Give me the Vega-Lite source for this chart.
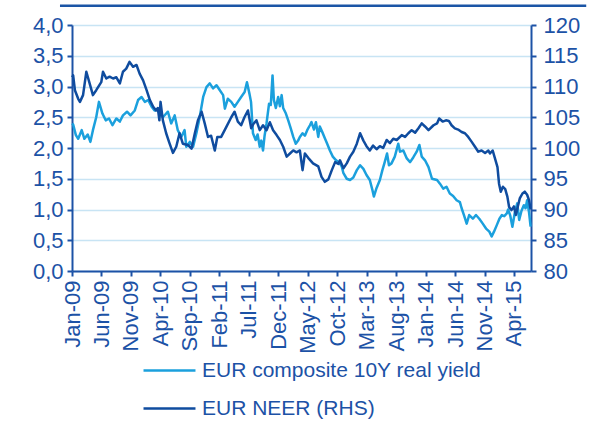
{
  "$schema": "https://vega.github.io/schema/vega-lite/v6.json",
  "width": 459,
  "height": 246,
  "autosize": {"type": "none"},
  "padding": {"left": 72, "top": 25, "right": 69, "bottom": 150},
  "background": "white",
  "config": {
    "view": {"stroke": null},
    "font": "Liberation Sans",
    "axis": {
      "labelFont": "Liberation Sans",
      "labelFontSize": 22,
      "labelColor": "#1c52a6",
      "domainColor": "#1c52a6",
      "domainWidth": 2,
      "tickColor": "#1c52a6",
      "tickWidth": 2,
      "tickSize": 5,
      "labelOverlap": false,
      "labelBound": false,
      "labelFlush": false,
      "title": null
    },
    "legend": {
      "orient": "none",
      "legendX": 70,
      "legendY": 318,
      "direction": "vertical",
      "symbolType": "stroke",
      "symbolSize": 2700,
      "symbolStrokeWidth": 2.5,
      "labelFont": "Liberation Sans",
      "labelFontSize": 21,
      "labelColor": "#1c52a6",
      "labelOffset": 5,
      "labelLimit": 400,
      "rowPadding": -16,
      "padding": 0,
      "title": null
    }
  },
  "datasets": {
    "yield": [
      {"d": "2009-01-02", "v": 2.40}, {"d": "2009-01-07", "v": 2.38}, {"d": "2009-01-21", "v": 2.21},
      {"d": "2009-02-02", "v": 2.15}, {"d": "2009-02-20", "v": 2.29}, {"d": "2009-03-06", "v": 2.15},
      {"d": "2009-03-23", "v": 2.22}, {"d": "2009-04-06", "v": 2.10}, {"d": "2009-04-19", "v": 2.29},
      {"d": "2009-05-06", "v": 2.50}, {"d": "2009-05-20", "v": 2.75}, {"d": "2009-06-07", "v": 2.56},
      {"d": "2009-06-24", "v": 2.45}, {"d": "2009-07-11", "v": 2.48}, {"d": "2009-07-29", "v": 2.37},
      {"d": "2009-08-18", "v": 2.48}, {"d": "2009-09-05", "v": 2.43}, {"d": "2009-09-21", "v": 2.53},
      {"d": "2009-10-12", "v": 2.59}, {"d": "2009-10-30", "v": 2.53}, {"d": "2009-11-21", "v": 2.61},
      {"d": "2009-12-08", "v": 2.78}, {"d": "2009-12-26", "v": 2.83}, {"d": "2010-01-12", "v": 2.75},
      {"d": "2010-01-29", "v": 2.78}, {"d": "2010-02-16", "v": 2.67}, {"d": "2010-03-03", "v": 2.61},
      {"d": "2010-03-20", "v": 2.63}, {"d": "2010-03-28", "v": 2.56}, {"d": "2010-04-15", "v": 2.50},
      {"d": "2010-05-11", "v": 2.59}, {"d": "2010-05-28", "v": 2.40}, {"d": "2010-06-15", "v": 2.53},
      {"d": "2010-07-01", "v": 2.29}, {"d": "2010-07-19", "v": 2.18}, {"d": "2010-08-05", "v": 2.29},
      {"d": "2010-08-14", "v": 2.02}, {"d": "2010-09-01", "v": 2.10}, {"d": "2010-09-18", "v": 2.02},
      {"d": "2010-10-05", "v": 2.24}, {"d": "2010-10-22", "v": 2.50}, {"d": "2010-11-09", "v": 2.83},
      {"d": "2010-11-26", "v": 2.99}, {"d": "2010-12-13", "v": 3.05}, {"d": "2010-12-30", "v": 2.97},
      {"d": "2011-01-17", "v": 3.02}, {"d": "2011-02-03", "v": 2.94}, {"d": "2011-02-20", "v": 2.86},
      {"d": "2011-03-01", "v": 2.64}, {"d": "2011-03-16", "v": 2.80}, {"d": "2011-04-03", "v": 2.75},
      {"d": "2011-04-20", "v": 2.67}, {"d": "2011-05-07", "v": 2.75}, {"d": "2011-05-24", "v": 2.83},
      {"d": "2011-06-11", "v": 2.91}, {"d": "2011-06-23", "v": 3.07}, {"d": "2011-07-06", "v": 2.88},
      {"d": "2011-07-14", "v": 2.75}, {"d": "2011-07-24", "v": 2.24}, {"d": "2011-08-07", "v": 2.13},
      {"d": "2011-08-17", "v": 2.22}, {"d": "2011-08-28", "v": 2.02}, {"d": "2011-09-05", "v": 2.12},
      {"d": "2011-09-14", "v": 1.96}, {"d": "2011-09-22", "v": 2.20}, {"d": "2011-10-02", "v": 2.40},
      {"d": "2011-10-15", "v": 2.72}, {"d": "2011-10-24", "v": 2.70}, {"d": "2011-11-02", "v": 3.18},
      {"d": "2011-11-09", "v": 2.78}, {"d": "2011-11-19", "v": 2.65}, {"d": "2011-12-01", "v": 2.83},
      {"d": "2011-12-10", "v": 2.68}, {"d": "2011-12-19", "v": 2.86}, {"d": "2011-12-27", "v": 2.65},
      {"d": "2012-01-10", "v": 2.56}, {"d": "2012-01-22", "v": 2.45}, {"d": "2012-02-04", "v": 2.32},
      {"d": "2012-02-17", "v": 2.18}, {"d": "2012-03-01", "v": 2.07}, {"d": "2012-03-13", "v": 2.12},
      {"d": "2012-03-22", "v": 2.18}, {"d": "2012-04-05", "v": 2.24}, {"d": "2012-04-17", "v": 2.20},
      {"d": "2012-04-29", "v": 2.29}, {"d": "2012-05-13", "v": 2.37}, {"d": "2012-05-21", "v": 2.42},
      {"d": "2012-06-03", "v": 2.30}, {"d": "2012-06-13", "v": 2.42}, {"d": "2012-06-25", "v": 2.18},
      {"d": "2012-07-03", "v": 2.35}, {"d": "2012-07-17", "v": 2.25}, {"d": "2012-07-29", "v": 2.16},
      {"d": "2012-08-10", "v": 2.07}, {"d": "2012-08-24", "v": 1.96}, {"d": "2012-09-08", "v": 1.86},
      {"d": "2012-09-25", "v": 1.80}, {"d": "2012-10-12", "v": 1.76}, {"d": "2012-10-24", "v": 1.70},
      {"d": "2012-11-02", "v": 1.59}, {"d": "2012-11-19", "v": 1.50}, {"d": "2012-12-06", "v": 1.48},
      {"d": "2012-12-23", "v": 1.52}, {"d": "2013-01-10", "v": 1.64}, {"d": "2013-01-27", "v": 1.72},
      {"d": "2013-02-13", "v": 1.66}, {"d": "2013-03-01", "v": 1.56}, {"d": "2013-03-18", "v": 1.48},
      {"d": "2013-04-01", "v": 1.31}, {"d": "2013-04-08", "v": 1.21}, {"d": "2013-04-22", "v": 1.35},
      {"d": "2013-05-09", "v": 1.48}, {"d": "2013-05-22", "v": 1.64}, {"d": "2013-06-03", "v": 1.77},
      {"d": "2013-06-15", "v": 1.91}, {"d": "2013-06-25", "v": 1.72}, {"d": "2013-07-08", "v": 1.75},
      {"d": "2013-07-25", "v": 1.86}, {"d": "2013-08-12", "v": 2.07}, {"d": "2013-08-21", "v": 1.94},
      {"d": "2013-09-07", "v": 1.96}, {"d": "2013-09-25", "v": 1.83}, {"d": "2013-10-12", "v": 1.77},
      {"d": "2013-10-29", "v": 1.85}, {"d": "2013-11-15", "v": 1.94}, {"d": "2013-11-29", "v": 2.05},
      {"d": "2013-12-11", "v": 1.86}, {"d": "2013-12-28", "v": 1.80}, {"d": "2014-01-15", "v": 1.69},
      {"d": "2014-02-02", "v": 1.50}, {"d": "2014-02-28", "v": 1.48}, {"d": "2014-03-15", "v": 1.42},
      {"d": "2014-04-01", "v": 1.34}, {"d": "2014-04-18", "v": 1.37}, {"d": "2014-05-05", "v": 1.26},
      {"d": "2014-05-22", "v": 1.22}, {"d": "2014-06-09", "v": 1.15}, {"d": "2014-06-26", "v": 1.12},
      {"d": "2014-07-05", "v": 1.02}, {"d": "2014-07-17", "v": 0.91}, {"d": "2014-07-31", "v": 0.77},
      {"d": "2014-08-13", "v": 0.91}, {"d": "2014-09-01", "v": 0.85}, {"d": "2014-09-17", "v": 0.91},
      {"d": "2014-10-04", "v": 0.85}, {"d": "2014-10-22", "v": 0.77}, {"d": "2014-11-08", "v": 0.69},
      {"d": "2014-11-25", "v": 0.64}, {"d": "2014-12-07", "v": 0.56}, {"d": "2014-12-19", "v": 0.64},
      {"d": "2015-01-03", "v": 0.75}, {"d": "2015-01-16", "v": 0.85}, {"d": "2015-01-29", "v": 0.91},
      {"d": "2015-02-10", "v": 0.89}, {"d": "2015-02-24", "v": 0.94}, {"d": "2015-03-02", "v": 1.00},
      {"d": "2015-03-13", "v": 0.90}, {"d": "2015-03-24", "v": 0.72}, {"d": "2015-04-06", "v": 0.96},
      {"d": "2015-04-18", "v": 1.10}, {"d": "2015-04-28", "v": 0.83}, {"d": "2015-05-10", "v": 0.98},
      {"d": "2015-05-22", "v": 1.07}, {"d": "2015-05-31", "v": 1.02}, {"d": "2015-06-08", "v": 1.15},
      {"d": "2015-06-18", "v": 0.95}, {"d": "2015-06-26", "v": 0.72}
    ],
    "neer": [
      {"d": "2009-01-02", "v": 111.5}, {"d": "2009-01-07", "v": 111.8}, {"d": "2009-01-16", "v": 109.4},
      {"d": "2009-02-02", "v": 108.0}, {"d": "2009-02-11", "v": 107.5}, {"d": "2009-02-27", "v": 108.6},
      {"d": "2009-03-16", "v": 112.4}, {"d": "2009-04-02", "v": 110.5}, {"d": "2009-04-19", "v": 108.6},
      {"d": "2009-05-06", "v": 109.4}, {"d": "2009-06-01", "v": 110.7}, {"d": "2009-06-10", "v": 112.4},
      {"d": "2009-06-27", "v": 111.3}, {"d": "2009-07-14", "v": 111.6}, {"d": "2009-08-01", "v": 111.3},
      {"d": "2009-08-18", "v": 111.5}, {"d": "2009-09-05", "v": 110.5}, {"d": "2009-09-21", "v": 112.4},
      {"d": "2009-10-08", "v": 112.9}, {"d": "2009-10-25", "v": 114.0}, {"d": "2009-11-12", "v": 113.2},
      {"d": "2009-11-30", "v": 113.5}, {"d": "2009-12-16", "v": 112.1}, {"d": "2010-01-03", "v": 111.0},
      {"d": "2010-01-21", "v": 109.4}, {"d": "2010-02-07", "v": 107.8}, {"d": "2010-02-24", "v": 106.7},
      {"d": "2010-03-11", "v": 106.1}, {"d": "2010-03-20", "v": 106.5}, {"d": "2010-03-28", "v": 104.5},
      {"d": "2010-04-03", "v": 107.5}, {"d": "2010-04-15", "v": 104.5}, {"d": "2010-05-02", "v": 102.4},
      {"d": "2010-05-19", "v": 100.8}, {"d": "2010-06-06", "v": 99.2}, {"d": "2010-06-23", "v": 100.2},
      {"d": "2010-07-10", "v": 102.4}, {"d": "2010-07-27", "v": 100.7}, {"d": "2010-08-22", "v": 100.5},
      {"d": "2010-09-10", "v": 99.9}, {"d": "2010-09-27", "v": 102.4}, {"d": "2010-10-13", "v": 104.5},
      {"d": "2010-11-01", "v": 105.9}, {"d": "2010-11-17", "v": 104.0}, {"d": "2010-12-04", "v": 101.8},
      {"d": "2010-12-20", "v": 102.0}, {"d": "2011-01-08", "v": 99.6}, {"d": "2011-01-21", "v": 101.8},
      {"d": "2011-02-10", "v": 101.8}, {"d": "2011-03-08", "v": 103.4}, {"d": "2011-04-03", "v": 105.0},
      {"d": "2011-04-20", "v": 105.9}, {"d": "2011-05-07", "v": 104.3}, {"d": "2011-05-24", "v": 103.7},
      {"d": "2011-06-10", "v": 105.0}, {"d": "2011-06-28", "v": 106.1}, {"d": "2011-07-15", "v": 103.2},
      {"d": "2011-07-26", "v": 103.9}, {"d": "2011-08-11", "v": 104.5}, {"d": "2011-08-28", "v": 102.9},
      {"d": "2011-09-14", "v": 103.7}, {"d": "2011-10-02", "v": 102.9}, {"d": "2011-10-19", "v": 104.2},
      {"d": "2011-11-05", "v": 102.9}, {"d": "2011-11-23", "v": 102.1}, {"d": "2011-12-10", "v": 101.3},
      {"d": "2011-12-27", "v": 100.2}, {"d": "2012-01-14", "v": 98.6}, {"d": "2012-01-31", "v": 99.1},
      {"d": "2012-02-17", "v": 99.6}, {"d": "2012-03-05", "v": 99.3}, {"d": "2012-03-22", "v": 99.6},
      {"d": "2012-04-05", "v": 96.4}, {"d": "2012-04-17", "v": 99.1}, {"d": "2012-05-04", "v": 98.4},
      {"d": "2012-05-29", "v": 97.5}, {"d": "2012-06-25", "v": 97.0}, {"d": "2012-07-12", "v": 95.3},
      {"d": "2012-07-29", "v": 94.5}, {"d": "2012-08-16", "v": 94.9}, {"d": "2012-09-03", "v": 96.4},
      {"d": "2012-09-20", "v": 97.7}, {"d": "2012-10-07", "v": 97.4}, {"d": "2012-10-15", "v": 98.0},
      {"d": "2012-11-02", "v": 96.7}, {"d": "2012-11-19", "v": 97.5}, {"d": "2012-12-06", "v": 98.6},
      {"d": "2012-12-23", "v": 99.4}, {"d": "2013-01-10", "v": 100.7}, {"d": "2013-01-27", "v": 102.4},
      {"d": "2013-02-13", "v": 101.2}, {"d": "2013-03-01", "v": 100.3}, {"d": "2013-03-18", "v": 99.6},
      {"d": "2013-04-04", "v": 100.4}, {"d": "2013-04-22", "v": 99.8}, {"d": "2013-05-09", "v": 100.3},
      {"d": "2013-05-26", "v": 100.0}, {"d": "2013-06-13", "v": 101.3}, {"d": "2013-06-30", "v": 100.8},
      {"d": "2013-07-17", "v": 101.5}, {"d": "2013-08-04", "v": 101.3}, {"d": "2013-08-30", "v": 102.1},
      {"d": "2013-09-16", "v": 101.8}, {"d": "2013-10-03", "v": 102.4}, {"d": "2013-10-20", "v": 102.9},
      {"d": "2013-11-07", "v": 102.5}, {"d": "2013-11-24", "v": 103.2}, {"d": "2013-12-11", "v": 104.0},
      {"d": "2013-12-28", "v": 103.5}, {"d": "2014-01-15", "v": 102.9}, {"d": "2014-02-10", "v": 103.7},
      {"d": "2014-02-28", "v": 104.0}, {"d": "2014-03-11", "v": 104.8}, {"d": "2014-03-29", "v": 104.3},
      {"d": "2014-04-15", "v": 104.5}, {"d": "2014-04-30", "v": 104.4}, {"d": "2014-05-14", "v": 103.7},
      {"d": "2014-05-31", "v": 103.2}, {"d": "2014-06-17", "v": 103.0}, {"d": "2014-07-05", "v": 102.6},
      {"d": "2014-07-22", "v": 102.4}, {"d": "2014-08-08", "v": 101.8}, {"d": "2014-08-26", "v": 101.0},
      {"d": "2014-09-12", "v": 100.2}, {"d": "2014-09-29", "v": 99.4}, {"d": "2014-10-16", "v": 99.6},
      {"d": "2014-11-03", "v": 99.2}, {"d": "2014-11-20", "v": 99.6}, {"d": "2014-11-28", "v": 99.1},
      {"d": "2014-12-12", "v": 99.6}, {"d": "2014-12-24", "v": 98.3}, {"d": "2015-01-06", "v": 96.9},
      {"d": "2015-01-14", "v": 94.2}, {"d": "2015-01-23", "v": 92.9}, {"d": "2015-02-03", "v": 93.7},
      {"d": "2015-02-15", "v": 93.3}, {"d": "2015-02-26", "v": 92.1}, {"d": "2015-03-07", "v": 90.4},
      {"d": "2015-03-19", "v": 89.9}, {"d": "2015-04-01", "v": 90.5}, {"d": "2015-04-11", "v": 89.1},
      {"d": "2015-04-21", "v": 90.5}, {"d": "2015-05-01", "v": 91.8}, {"d": "2015-05-15", "v": 92.6},
      {"d": "2015-05-27", "v": 92.9}, {"d": "2015-06-08", "v": 92.4}, {"d": "2015-06-18", "v": 91.5},
      {"d": "2015-06-26", "v": 90.0}
    ],
    "frame": [
      {"from": "2008-10-31", "to": "2016-04-08", "level": 4.315}
    ]
  },
  "encoding": {
    "x": {
      "field": "d",
      "type": "temporal",
      "scale": {
        "type": "utc",
        "clamp": false,
        "domain": [
          {"year": 2009, "month": 1, "date": 1, "utc": true},
          {"year": 2015, "month": 6, "date": 28, "utc": true}
        ]
      },
      "axis": {
        "values": [
          {"year": 2009, "month": 1, "date": 1, "utc": true},
          {"year": 2009, "month": 6, "date": 1, "utc": true},
          {"year": 2009, "month": 11, "date": 1, "utc": true},
          {"year": 2010, "month": 4, "date": 1, "utc": true},
          {"year": 2010, "month": 9, "date": 1, "utc": true},
          {"year": 2011, "month": 2, "date": 1, "utc": true},
          {"year": 2011, "month": 7, "date": 1, "utc": true},
          {"year": 2011, "month": 12, "date": 1, "utc": true},
          {"year": 2012, "month": 5, "date": 1, "utc": true},
          {"year": 2012, "month": 10, "date": 1, "utc": true},
          {"year": 2013, "month": 3, "date": 1, "utc": true},
          {"year": 2013, "month": 8, "date": 1, "utc": true},
          {"year": 2014, "month": 1, "date": 1, "utc": true},
          {"year": 2014, "month": 6, "date": 1, "utc": true},
          {"year": 2014, "month": 11, "date": 1, "utc": true},
          {"year": 2015, "month": 4, "date": 1, "utc": true}
        ],
        "format": "%b-%y",
        "labelAngle": 270,
        "labelAlign": "right",
        "labelBaseline": "middle",
        "labelPadding": 4,
        "labelOverlap": false,
        "grid": false
      }
    }
  },
  "layer": [
    {
      "data": {"name": "yield"},
      "mark": {"type": "line", "strokeWidth": 2.5, "strokeJoin": "round"},
      "encoding": {
        "y": {
          "field": "v",
          "type": "quantitative",
          "scale": {"domain": [0, 4], "nice": false, "zero": true},
          "axis": {
            "orient": "left",
            "values": [0, 0.5, 1, 1.5, 2, 2.5, 3, 3.5, 4],
            "tickCount": 9,
            "labelExpr": "replace(format(datum.value, '.1f'), '.', ',')",
            "labelOverlap": false,
            "grid": true,
            "gridColor": "#c8e4f4",
            "gridWidth": 1.5,
            "labelPadding": 4
          }
        },
        "color": {
          "datum": "EUR composite 10Y real yield",
          "type": "nominal",
          "scale": {
            "domain": ["EUR composite 10Y real yield", "EUR NEER (RHS)"],
            "range": ["#1ba0dd", "#0f4c9f"]
          }
        }
      }
    },
    {
      "data": {"name": "neer"},
      "mark": {"type": "line", "strokeWidth": 2.5, "strokeJoin": "round"},
      "encoding": {
        "y": {
          "field": "v",
          "type": "quantitative",
          "scale": {"domain": [80, 120], "nice": false, "zero": false},
          "axis": {
            "orient": "right",
            "values": [80, 85, 90, 95, 100, 105, 110, 115, 120],
            "labelOverlap": false,
            "grid": false,
            "labelPadding": 7
          }
        },
        "color": {"datum": "EUR NEER (RHS)", "type": "nominal"}
      }
    },
    {
      "data": {"name": "frame"},
      "mark": {"type": "rule", "color": "#1b55a6", "strokeWidth": 2.5, "clip": false},
      "encoding": {
        "x": {"field": "from", "type": "temporal"},
        "x2": {"field": "to"},
        "y": {
          "field": "level",
          "type": "quantitative",
          "scale": {"domain": [0, 4], "nice": false, "zero": true},
          "axis": null
        }
      }
    }
  ],
  "resolve": {"scale": {"y": "independent"}}
}
